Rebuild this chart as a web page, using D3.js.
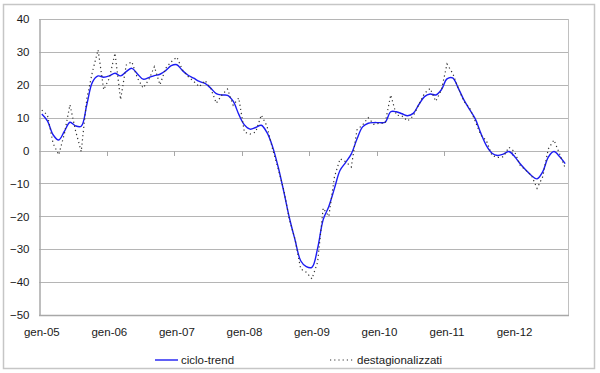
<!DOCTYPE html>
<html>
<head>
<meta charset="utf-8">
<script src="https://cdn.jsdelivr.net/npm/d3@7"></script>
<style>
  body { margin: 0; background: #fff; }
  svg text { font-family: 'Liberation Sans', Arial, sans-serif; fill: #1a1a1a; }
</style>
</head>
<body>
<svg id="grafico" width="600" height="373"></svg>
<script>
// mesi: gen-05 ... ott-12
const mesi = d3.timeMonth.range(new Date(2005, 0, 1), new Date(2012, 10, 1));

const cicloTrend = [
    11.1, 9.0, 4.8, 3.2, 5.8, 8.6, 7.5, 7.4, 14.0, 20.8, 22.7, 22.3,
    22.7, 23.5, 22.7, 24.0, 25.0, 23.3, 21.7, 22.2, 22.8, 23.2, 24.3, 25.8,
    26.1, 24.3, 22.9, 22.0, 21.0, 20.4, 19.0, 17.3, 16.9, 16.8, 15.0, 11.0,
    7.8, 6.5, 7.0, 7.7, 5.5, 1.2, -5.0, -12.5, -20.5, -27.2, -33.5, -35.3,
    -35.5, -29.8, -21.0, -17.0, -11.5, -6.0, -3.6, -1.0, 3.5, 7.2, 8.3, 8.5,
    8.5, 8.6, 11.8, 11.8, 11.2, 10.6, 11.3, 14.0, 16.4, 17.2, 16.9, 18.5,
    21.8, 22.1, 19.0, 15.4, 12.5, 9.7, 5.3, 1.5, -0.8, -1.5, -1.1, -0.3,
    -1.8, -4.0, -5.9, -7.6, -8.6, -6.5, -2.0, -0.3, -1.8, -4.0
];

const destag = [
    12.3, 10.8, 2.2, -1.3, 5.0, 13.9, 6.0, -0.3, 15.8, 24.0, 30.6, 18.5,
    22.0, 29.6, 15.5, 26.0, 27.0, 22.0, 19.0, 21.5, 25.5, 20.0, 25.0, 27.0,
    28.4, 24.5, 22.5, 21.0, 19.4, 21.3, 19.0, 14.4, 16.9, 18.7, 13.8, 16.0,
    5.6, 5.0, 5.6, 10.8, 7.5, 0.5, -5.5, -12.0, -21.0, -27.0, -36.0, -37.0,
    -39.0, -34.0, -17.5, -20.0, -8.0, -2.5, -3.4, -5.0, 6.3, 7.8, 10.0, 8.0,
    8.3, 8.3, 16.9, 10.8, 10.5, 9.0, 10.5, 14.0, 17.4, 18.9, 15.0, 18.4,
    26.3, 23.5, 19.0, 15.0, 13.0, 9.0, 4.7, 3.0, -1.5, -2.1, -1.9, 1.0,
    -0.3, -4.5, -6.0, -7.5, -11.5, -8.0, 0.5, 3.2, -1.0, -5.3
];

const etichetteX = ['gen-05', 'gen-06', 'gen-07', 'gen-08', 'gen-09', 'gen-10', 'gen-11', 'gen-12'];
const ticksY = [-50, -40, -30, -20, -10, 0, 10, 20, 30, 40];
const nomiSerie = ['ciclo-trend', 'destagionalizzati'];

const svg = d3.select('#grafico');

// cornice esterna
svg.append('rect')
    .attr('x', 3.5).attr('y', 4.5)
    .attr('width', 591).attr('height', 364)
    .attr('fill', 'none')
    .attr('stroke', '#c6c6c6')
    .attr('stroke-width', 1.5);

const pLeft = 39, pRight = 568, pTop = 19, pBottom = 315;

let x = d3.scaleBand().domain(mesi).range([pLeft, pRight]).padding(0);
let y = d3.scaleLinear().domain([-50, 40]).range([pBottom, pTop]);
const cx = (d, i) => x(mesi[i]) + x.bandwidth() / 2;

// griglia
svg.append('g').attr('id', 'griglia')
    .selectAll('line')
    .data(ticksY).enter()
    .append('line')
    .attr('x1', pLeft).attr('x2', pRight)
    .attr('y1', d => Math.round(y(d)) + 0.5)
    .attr('y2', d => Math.round(y(d)) + 0.5)
    .attr('stroke', '#b5b5b5')
    .attr('stroke-width', 1);

// bordo destro area del grafico
svg.append('line')
    .attr('x1', pRight + 0.5).attr('x2', pRight + 0.5)
    .attr('y1', pTop).attr('y2', pBottom + 0.5)
    .attr('stroke', '#c0c0c0');

// asse y
let yAxis = d3.axisLeft(y).tickValues(ticksY).tickSize(0).tickPadding(10);
let gy = svg.append('g')
    .attr('transform', 'translate(' + (pLeft + 0.5) + ',0)')
    .call(yAxis);
gy.select('.domain').attr('stroke', '#a8a8a8').attr('stroke-width', 1.5);
gy.selectAll('text').style('font-size', '11.5px');

// tacche dell'asse x sulla linea dello zero
const gennai = mesi.filter(m => m.getMonth() === 0);
svg.append('g').attr('id', 'tacche')
    .selectAll('line')
    .data(gennai.slice(1)).enter()
    .append('line')
    .attr('x1', d => Math.round(x(d)) + 0.5)
    .attr('x2', d => Math.round(x(d)) + 0.5)
    .attr('y1', Math.round(y(0)))
    .attr('y2', Math.round(y(0)) + 5)
    .attr('stroke', '#a8a8a8');

// etichette asse x (in basso)
let xAxis = d3.axisBottom(x).tickValues(gennai).tickSize(0).tickPadding(13)
    .tickFormat((d, i) => etichetteX[i]);
let gx = svg.append('g')
    .attr('transform', 'translate(0,' + pBottom + ')')
    .call(xAxis);
gx.select('.domain').remove();
gx.selectAll('text').style('font-size', '11.5px');

// bordo inferiore
svg.append('line')
    .attr('x1', pLeft).attr('x2', pRight + 1)
    .attr('y1', pBottom + 0.5).attr('y2', pBottom + 0.5)
    .attr('stroke', '#a8a8a8')
    .attr('stroke-width', 1.5);

// serie
svg.append('path')
    .datum(cicloTrend)
    .attr('fill', 'none')
    .attr('stroke', '#1c1cf2')
    .attr('stroke-width', 1.4)
    .attr('d', d3.line().x(cx).y(d => y(d)).curve(d3.curveCatmullRom.alpha(0.5)));

svg.append('path')
    .datum(destag)
    .attr('fill', 'none')
    .attr('stroke', '#333')
    .attr('stroke-width', 1.2)
    .attr('stroke-dasharray', '1.2,3')
    .attr('d', d3.line().x(cx).y(d => y(d)));

// legenda
let legend = svg.append('g').attr('id', 'legenda');
legend.append('line')
    .attr('x1', 155).attr('x2', 178).attr('y1', 360).attr('y2', 360)
    .attr('stroke', '#1c1cf2').attr('stroke-width', 1.4);
legend.append('text')
    .attr('x', 181).attr('y', 364)
    .style('font-size', '11.5px')
    .text(nomiSerie[0]);
legend.append('line')
    .attr('x1', 330).attr('x2', 354).attr('y1', 360).attr('y2', 360)
    .attr('stroke', '#333').attr('stroke-width', 1.2)
    .attr('stroke-dasharray', '1.2,3');
legend.append('text')
    .attr('x', 357).attr('y', 364)
    .style('font-size', '11.5px')
    .text(nomiSerie[1]);
</script>
</body>
</html>
